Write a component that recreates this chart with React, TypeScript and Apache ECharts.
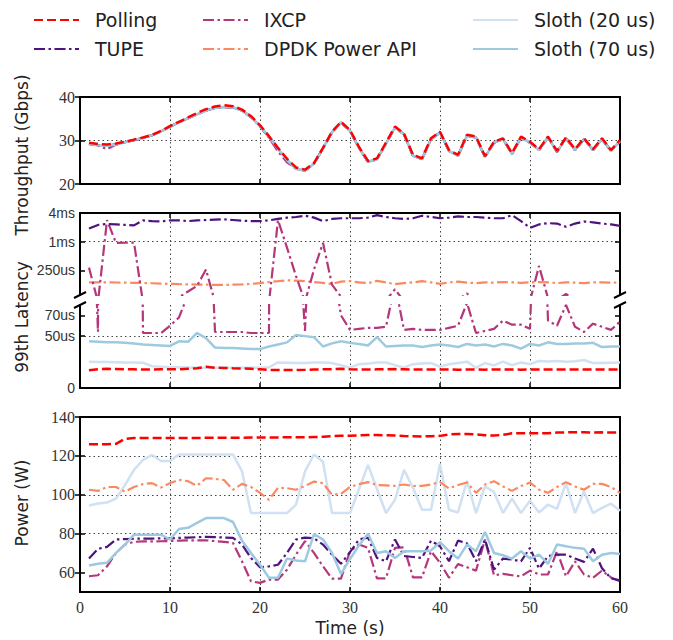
import React, { useEffect, useRef } from 'react';
import * as echarts from 'echarts';

// ---------- data ----------
const seconds = [
  1, 2, 3, 4, 5, 6, 7, 8, 9, 10, 11, 12, 13, 14, 15, 16, 17, 18, 19, 20,
  21, 22, 23, 24, 25, 26, 27, 28, 29, 30, 31, 32, 33, 34, 35, 36, 37, 38, 39, 40,
  41, 42, 43, 44, 45, 46, 47, 48, 49, 50, 51, 52, 53, 54, 55, 56, 57, 58, 59, 60,
];

const methodNames = ['Polling', 'TUPE', 'IXCP', 'DPDK Power API', 'Sloth (20 us)', 'Sloth (70 us)'];

// Throughput (Gbps)
const throughputPolling = [
  29.5, 29.2, 29.1, 29.3, 29.7, 30.2, 30.7, 31.3, 32.2, 33.3,
  34.3, 35.3, 36.3, 37.2, 37.8, 38.1, 37.9, 37.1, 35.6, 33.5,
  31.0, 28.3, 25.8, 23.8, 23.3, 24.8, 28.3, 32.0, 34.3, 32.4,
  28.5, 25.3, 25.9, 29.5, 33.2, 31.6, 26.7, 25.9, 30.5, 32.0,
  27.8, 26.7, 31.3, 30.9, 26.4, 29.7, 30.5, 27.1, 30.9, 29.7,
  28.0, 30.9, 27.6, 30.7, 28.0, 30.5, 28.0, 30.5, 27.8, 30.1,
];
const throughputIXCP = [
  29.2, 28.9, 28.0, 29.1, 29.6, 30.1, 30.6, 31.2, 32.1, 33.2,
  34.2, 35.1, 36.0, 36.9, 37.5, 37.7, 37.6, 36.9, 35.4, 33.3,
  30.6, 27.5, 25.0, 23.5, 23.1, 24.7, 28.2, 31.9, 34.1, 32.2,
  28.3, 25.1, 25.7, 29.3, 33.0, 31.4, 26.5, 25.7, 30.3, 31.8,
  27.6, 26.5, 31.1, 30.7, 26.2, 29.5, 30.3, 26.9, 30.7, 29.5,
  27.8, 30.7, 27.4, 30.5, 27.8, 30.3, 27.8, 30.3, 27.6, 29.9,
];
const throughputOthers = [
  29.2, 28.9, 28.8, 29.1, 29.6, 30.1, 30.6, 31.2, 32.1, 33.2,
  34.2, 35.1, 36.0, 36.9, 37.5, 37.7, 37.6, 36.9, 35.4, 33.3,
  30.8, 28.1, 25.5, 23.5, 23.1, 24.7, 28.2, 31.9, 34.1, 32.2,
  28.3, 25.1, 25.7, 29.3, 33.0, 31.4, 26.5, 25.7, 30.3, 31.8,
  27.6, 26.5, 31.1, 30.7, 26.2, 29.5, 30.3, 26.9, 30.7, 29.5,
  27.8, 30.7, 27.4, 30.5, 27.8, 30.3, 27.8, 30.3, 27.6, 29.9,
];

// 99th latency (microseconds)
const latencyPolling = [
  17.0, 18.0, 18.5, 18.3, 18.0, 18.0, 17.8, 17.8, 18.0, 18.0,
  18.0, 18.5, 19.0, 20.5, 19.5, 19.3, 19.0, 18.8, 18.5, 18.0,
  17.5, 17.3, 17.3, 17.3, 17.5, 17.8, 18.0, 18.0, 18.5, 18.0,
  17.8, 17.8, 18.0, 18.0, 18.2, 18.0, 17.8, 17.8, 17.8, 17.9,
  17.8, 17.6, 17.8, 17.8, 17.7, 17.8, 17.8, 17.8, 17.7, 17.8,
  17.8, 17.8, 17.8, 17.8, 17.8, 17.8, 17.8, 17.8, 17.8, 17.8,
];
const latencyTUPE = [
  1900, 2250, 2350, 2300, 2250, 2200, 2800, 2700, 2650, 2800,
  2800, 2700, 2800, 2850, 2900, 2950, 2850, 2750, 2700, 2700,
  2800, 3000, 3200, 3300, 3500, 3200, 2700, 3000, 3100, 3100,
  3100, 3200, 3600, 3300, 3100, 3000, 3100, 3500, 3300, 3100,
  3200, 3400, 3300, 3300, 3200, 3100, 3100, 3600, 2700, 1950,
  2300, 2450, 2400, 2050, 2400, 2650, 2550, 2400, 2300, 2150,
];
const latencyIXCP = [
  285, 54, 2840, 940, 950, 960, 53, 53, 53, 60,
  68, 90, 118, 260, 54, 54, 54, 54, 53, 53,
  53, 2840, 750, 190, 55, 260, 950, 125, 70, 56,
  57, 58, 58, 59, 100, 56, 57, 56, 56, 56,
  58, 60, 82, 53, 55, 57, 65, 61, 61, 57,
  310, 65, 60, 80, 59, 54, 62, 59, 56, 64,
];
const latencyDPDK = [
  140, 140, 140, 139, 138, 137, 136, 134, 132, 130,
  128, 127, 126, 125, 124, 124, 125, 127, 130, 135,
  142, 148, 155, 152, 148, 142, 136, 130, 145, 148,
  140, 135, 150, 140, 128, 135, 140, 148, 140, 130,
  140, 145, 138, 135, 140, 138, 142, 140, 137, 140,
  142, 140, 135, 140, 138, 135, 140, 140, 138, 140,
];
const latencySloth20 = [
  25.3, 25.0, 25.0, 24.8, 24.6, 24.5, 24.3, 21.0, 20.5, 20.0,
  20.0, 19.8, 19.6, 19.5, 19.5, 19.5, 19.5, 19.5, 19.5, 19.6,
  20.0, 24.6, 24.3, 24.0, 24.2, 24.5, 24.5, 24.0, 22.0, 19.6,
  23.0, 23.5, 24.5, 24.6, 22.0, 19.6, 23.0, 23.5, 24.0, 20.5,
  23.0, 24.0, 25.4, 19.6, 24.0, 21.8, 25.4, 22.0, 24.6, 23.0,
  26.0, 25.5, 26.0, 25.4, 25.8, 27.0, 24.0, 24.2, 24.4, 24.6,
];
const latencySloth70 = [
  45.0, 44.5, 44.0, 44.0, 43.5, 43.0, 42.0, 41.5, 41.0, 40.5,
  45.0, 44.5, 53.0, 48.0, 39.0, 38.5, 38.5, 38.0, 37.5, 37.5,
  40.0, 42.0, 44.0, 51.0, 50.0, 49.0, 40.0, 43.0, 45.0, 43.5,
  42.5, 41.0, 49.0, 40.0, 40.5, 41.0, 41.0, 39.5, 41.0, 42.0,
  41.0, 39.5, 42.5, 41.0, 42.0, 40.0, 42.5, 41.0, 38.0, 42.5,
  41.0, 44.0, 42.5, 42.5, 43.0, 43.0, 43.5, 39.5, 40.0, 40.0,
];

// Power (W)
const powerPolling = [
  126.0, 126.0, 126.0, 126.2, 128.8, 129.2, 129.2, 129.2, 129.2, 129.2,
  129.2, 129.2, 129.2, 129.3, 129.3, 129.3, 129.3, 129.3, 129.4, 129.5,
  129.5, 129.5, 129.6, 129.6, 129.6, 129.7, 129.8, 130.2, 130.3, 130.3,
  130.6, 130.8, 130.8, 130.6, 130.5, 130.2, 130.1, 130.0, 130.1, 130.3,
  131.0, 131.3, 131.3, 131.0, 130.6, 130.5, 130.8, 131.6, 131.6, 131.6,
  131.6, 131.7, 132.0, 132.1, 132.1, 132.1, 132.0, 132.1, 132.0, 132.0,
];
const powerTUPE = [
  67.2, 72.2, 73.2, 77.0, 77.2, 77.4, 77.5, 77.5, 77.6, 77.6,
  77.8, 78.0, 78.2, 78.4, 78.2, 78.0, 77.8, 74.4, 67.5, 62.7,
  63.2, 64.0, 70.1, 77.0, 78.0, 77.6, 74.4, 69.2, 64.5, 70.5,
  77.0, 78.0, 67.5, 65.8, 77.0, 68.5, 68.0, 67.5, 76.4, 73.5,
  65.8, 76.4, 75.0, 65.8, 77.0, 61.5, 67.2, 66.7, 65.8, 72.7,
  62.0, 68.5, 69.2, 69.2, 67.2, 65.5, 72.3, 62.2, 57.0, 56.0,
];
const powerIXCP = [
  58.1, 58.6, 63.2, 70.1, 74.4, 75.8, 76.0, 76.0, 76.1, 76.2,
  76.4, 76.5, 76.6, 76.6, 76.2, 75.8, 75.2, 65.8, 55.5, 54.7,
  56.4, 56.4, 61.5, 69.2, 76.2, 70.1, 63.2, 56.9, 56.9, 71.0,
  74.4, 72.7, 57.0, 57.0, 72.7, 73.0, 57.5, 57.5, 71.0, 65.0,
  57.3, 64.4, 62.7, 61.0, 77.0, 58.6, 59.3, 58.6, 58.0, 61.0,
  59.0, 59.0, 71.0, 58.0, 65.8, 59.0, 57.3, 61.0, 57.5, 55.5,
];
const powerDPDK = [
  102.6, 102.0, 104.0, 104.0, 101.6, 104.0, 105.5, 106.0, 103.7, 106.0,
  107.7, 107.0, 104.6, 108.5, 108.2, 107.6, 102.6, 105.6, 104.0, 101.0,
  97.4, 103.6, 103.4, 102.6, 104.5, 106.8, 106.0, 100.0, 100.5, 104.0,
  105.5, 106.5, 105.0, 104.8, 104.6, 105.3, 104.5, 104.6, 105.3, 106.5,
  103.3, 105.0, 106.3, 101.0, 105.3, 107.0, 104.3, 102.0, 104.5, 106.3,
  102.6, 101.0, 104.0, 106.5, 104.3, 102.6, 105.6, 105.6, 104.0, 101.0,
];
const powerSloth20 = [
  94.5, 95.5, 96.0, 98.0, 105.0, 112.8, 118.0, 120.5, 117.4, 117.4,
  120.7, 120.7, 120.7, 120.7, 120.7, 120.7, 120.7, 112.0, 90.6, 90.6,
  90.6, 90.6, 90.6, 94.9, 112.0, 120.7, 117.0, 90.6, 90.6, 90.6,
  103.0, 115.4, 103.0, 90.6, 97.4, 112.8, 103.6, 92.3, 92.3, 115.8,
  92.3, 90.9, 107.2, 90.6, 104.3, 101.4, 90.6, 98.0, 90.6, 97.0,
  90.9, 94.9, 92.8, 106.0, 90.6, 101.7, 90.6, 93.3, 95.4, 91.8,
];
const powerSloth70 = [
  63.6, 64.5, 65.0, 70.1, 74.4, 79.5, 79.5, 79.5, 79.5, 77.0,
  82.4, 83.0, 85.5, 88.0, 88.0, 88.0, 86.0, 76.4, 70.1, 64.0,
  57.3, 57.3, 67.2, 66.2, 65.8, 79.8, 77.0, 70.1, 59.3, 67.0,
  74.0, 80.0, 70.1, 71.0, 67.5, 71.0, 71.0, 71.0, 71.4, 75.6,
  71.0, 67.2, 74.4, 71.0, 80.8, 70.1, 68.9, 67.2, 71.0, 67.2,
  69.2, 64.5, 74.4, 73.5, 72.7, 72.3, 65.8, 69.2, 70.1, 69.5,
];

// tick values
const throughputTicks = [20, 30, 40];
const latencyHighTicks = [250, 1000, 4000];
const latencyLowTicks = [0, 50, 70];
const powerTicks = [60, 80, 100, 120, 140];

// ---------- styles ----------
const styles: Record<string, { color: string; width: number; dash: any; z: number }> = {
  'Polling': { color: '#ff0000', width: 2.5, dash: [9, 4], z: 10 },
  'TUPE': { color: '#4f137f', width: 2.2, dash: [11, 3.5, 2.5, 3.5], z: 5 },
  'IXCP': { color: '#b5367a', width: 2.2, dash: [11, 3.5, 2.5, 3.5], z: 4 },
  'DPDK Power API': { color: '#fb8860', width: 2.2, dash: [11, 3.5, 2.5, 3.5], z: 3 },
  'Sloth (20 us)': { color: '#cfe1f2', width: 2.5, dash: 'solid', z: 2 },
  'Sloth (70 us)': { color: '#9ecae1', width: 2.5, dash: 'solid', z: 6 },
};

const throughputByName: Record<string, number[]> = {
  'Polling': throughputPolling,
  'TUPE': throughputOthers,
  'IXCP': throughputIXCP,
  'DPDK Power API': throughputOthers,
  'Sloth (20 us)': throughputOthers,
  'Sloth (70 us)': throughputOthers,
};
const latencyByName: Record<string, number[]> = {
  'Polling': latencyPolling,
  'TUPE': latencyTUPE,
  'IXCP': latencyIXCP,
  'DPDK Power API': latencyDPDK,
  'Sloth (20 us)': latencySloth20,
  'Sloth (70 us)': latencySloth70,
};
const powerByName: Record<string, number[]> = {
  'Polling': powerPolling,
  'TUPE': powerTUPE,
  'IXCP': powerIXCP,
  'DPDK Power API': powerDPDK,
  'Sloth (20 us)': powerSloth20,
  'Sloth (70 us)': powerSloth70,
};

const pairs = (vals: number[]) => seconds.map((t, i) => [t, vals[i]]);

const SERIF = '"Liberation Serif", "DejaVu Serif", serif';
const SANS = '"DejaVu Sans", sans-serif';

const L = 80;
const W = 540;
const GRIDS = [
  { left: L, width: W, top: 97, height: 87 },
  { left: L, width: W, top: 213, height: 82 },
  { left: L, width: W, top: 305, height: 83 },
  { left: L, width: W, top: 417, height: 175 },
];

const gridLine = { show: true, lineStyle: { color: '#444', type: [1.5, 3] as any, width: 1 } };
const spine = { show: true, lineStyle: { color: '#000', width: 2 } };
const tickIn = { show: true, inside: true, length: 5, lineStyle: { color: '#000', width: 1.5 } };

function xAxisFor(gridIndex: number, position: 'top' | 'bottom', labels: boolean, split: boolean) {
  return {
    type: 'value',
    gridIndex,
    position,
    min: 0,
    max: 60,
    interval: 10,
    axisLine: spine,
    axisTick: tickIn,
    axisLabel: labels
      ? { show: true, fontFamily: SERIF, fontSize: 16, color: '#333', margin: 7 }
      : { show: false },
    splitLine: split ? { ...gridLine, showMinLine: false, showMaxLine: false } : { show: false },
  };
}

export default function App() {
  const ref = useRef<HTMLDivElement>(null);

  useEffect(() => {
    if (!ref.current) return;
    const chart = echarts.init(ref.current, undefined, { renderer: 'svg' });

    const latLabel = (v: number) => {
      const r = Math.round(v);
      if (r === 0) return '0';
      if (r >= 1000) return `${Math.round(r / 1000)}ms`;
      return `${r}us`;
    };

    const yAxes: any[] = [
      // grid 0 throughput
      {
        type: 'value', gridIndex: 0, position: 'left', min: 20, max: 40,
        axisLine: spine,
        axisTick: { ...tickIn, customValues: throughputTicks },
        axisLabel: { customValues: throughputTicks, fontFamily: SERIF, fontSize: 16, color: '#333', margin: 5 },
        splitLine: { ...gridLine, showMinLine: false, showMaxLine: false },
      },
      {
        type: 'value', gridIndex: 0, position: 'right', min: 20, max: 40,
        axisLine: spine, axisTick: { ...tickIn, customValues: throughputTicks },
        axisLabel: { show: false }, splitLine: { show: false },
      },
      // grid 1 latency (log part)
      {
        type: 'log', logBase: 4, gridIndex: 1, position: 'left', min: 76, max: 4000,
        axisLine: spine,
        axisTick: { ...tickIn, customValues: latencyHighTicks },
        axisLabel: {
          customValues: latencyHighTicks, formatter: latLabel,
          fontFamily: '"Liberation Sans", sans-serif', fontSize: 14, color: '#333', margin: 5,
        },
        splitLine: { ...gridLine, showMinLine: false, showMaxLine: false },
      },
      {
        type: 'log', logBase: 4, gridIndex: 1, position: 'right', min: 76, max: 4000,
        axisLine: spine,
        axisTick: { ...tickIn, customValues: latencyHighTicks },
        axisLabel: { show: false }, splitLine: { show: false },
      },
      // grid 2 latency (linear part)
      {
        type: 'value', gridIndex: 2, position: 'left', min: 0, max: 80,
        axisLine: spine,
        axisTick: { ...tickIn, customValues: latencyLowTicks },
        axisLabel: {
          customValues: latencyLowTicks, formatter: latLabel,
          fontFamily: '"Liberation Sans", sans-serif', fontSize: 14, color: '#333', margin: 5,
        },
        splitLine: { ...gridLine, showMinLine: false, showMaxLine: false },
      },
      {
        type: 'value', gridIndex: 2, position: 'right', min: 0, max: 80,
        axisLine: spine,
        axisTick: { ...tickIn, customValues: latencyLowTicks },
        axisLabel: { show: false }, splitLine: { show: false },
      },
      // grid 3 power
      {
        type: 'value', gridIndex: 3, position: 'left', min: 50, max: 140,
        axisLine: spine,
        axisTick: { ...tickIn, customValues: powerTicks },
        axisLabel: { customValues: powerTicks, fontFamily: SERIF, fontSize: 16, color: '#333', margin: 5 },
        splitLine: { ...gridLine, showMinLine: false, showMaxLine: false },
      },
      {
        type: 'value', gridIndex: 3, position: 'right', min: 50, max: 140,
        axisLine: spine,
        axisTick: { ...tickIn, customValues: powerTicks },
        axisLabel: { show: false }, splitLine: { show: false },
      },
    ];

    const xAxes: any[] = [
      xAxisFor(0, 'bottom', false, true), // 0
      xAxisFor(0, 'top', false, false), // 1
      xAxisFor(1, 'top', false, true), // 2
      xAxisFor(2, 'bottom', false, true), // 3
      xAxisFor(3, 'bottom', true, true), // 4
      xAxisFor(3, 'top', false, false), // 5
    ];

    const series: any[] = [];
    const addSeries = (name: string, vals: number[], xIdx: number, yIdx: number) => {
      const s = styles[name];
      series.push({
        type: 'line',
        name,
        xAxisIndex: xIdx,
        yAxisIndex: yIdx,
        data: pairs(vals),
        symbol: 'none',
        showSymbol: false,
        clip: true,
        z: s.z,
        lineStyle: { color: s.color, width: s.width, type: s.dash, cap: 'butt' },
        itemStyle: { color: s.color },
      });
    };
    methodNames.forEach((name) => {
      addSeries(name, throughputByName[name], 0, 0);
      addSeries(name, latencyByName[name], 2, 2);
      addSeries(name, latencyByName[name], 3, 4);
      addSeries(name, powerByName[name], 4, 6);
    });

    const legendBase = {
      orient: 'vertical',
      top: 4,
      itemWidth: 45,
      itemHeight: 14,
      itemGap: 7,
      selectedMode: false,
      itemStyle: { opacity: 0 },
      textStyle: { fontFamily: SANS, fontSize: 19, color: '#222', padding: [0, 0, 0, 11], lineHeight: 22 },
    };

    const breakMark = (x: number, y: number) => ({
      type: 'line',
      shape: { x1: x - 6, y1: y + 3, x2: x + 6, y2: y - 3 },
      style: { stroke: '#000', lineWidth: 2 },
    });

    const title = (text: string, x: number, y: number, rotate: boolean) => ({
      type: 'text',
      x,
      y,
      rotation: rotate ? Math.PI / 2 : 0,
      style: {
        text,
        font: `17px ${SANS}`,
        fill: '#222',
        textAlign: 'center',
        textVerticalAlign: 'middle',
      },
    });

    chart.setOption({
      animation: false,
      backgroundColor: '#ffffff',
      grid: GRIDS.map((g, i) => ({
        ...g,
        show: i === 0 || i === 3,
        borderColor: '#000',
        borderWidth: 2,
        backgroundColor: 'transparent',
        containLabel: false,
      })),
      xAxis: xAxes,
      yAxis: yAxes,
      legend: [
        { ...legendBase, left: 28, data: ['Polling', 'TUPE'] },
        { ...legendBase, left: 197, data: ['IXCP', 'DPDK Power API'] },
        { ...legendBase, left: 467, data: ['Sloth (20 us)', 'Sloth (70 us)'] },
      ],
      graphic: [
        breakMark(80, 295),
        breakMark(80, 305),
        breakMark(620, 295),
        breakMark(620, 305),
        title('Throughput (Gbps)', 22, 155, true),
        title('99th Latency', 22, 317, true),
        title('Power (W)', 22, 503, true),
        title('Time (s)', 350, 628, false),
      ],
      series,
    });

    return () => chart.dispose();
  }, []);

  return <div ref={ref} style={{ width: 673, height: 640, position: 'absolute', left: 0, top: 0 }} />;
}
